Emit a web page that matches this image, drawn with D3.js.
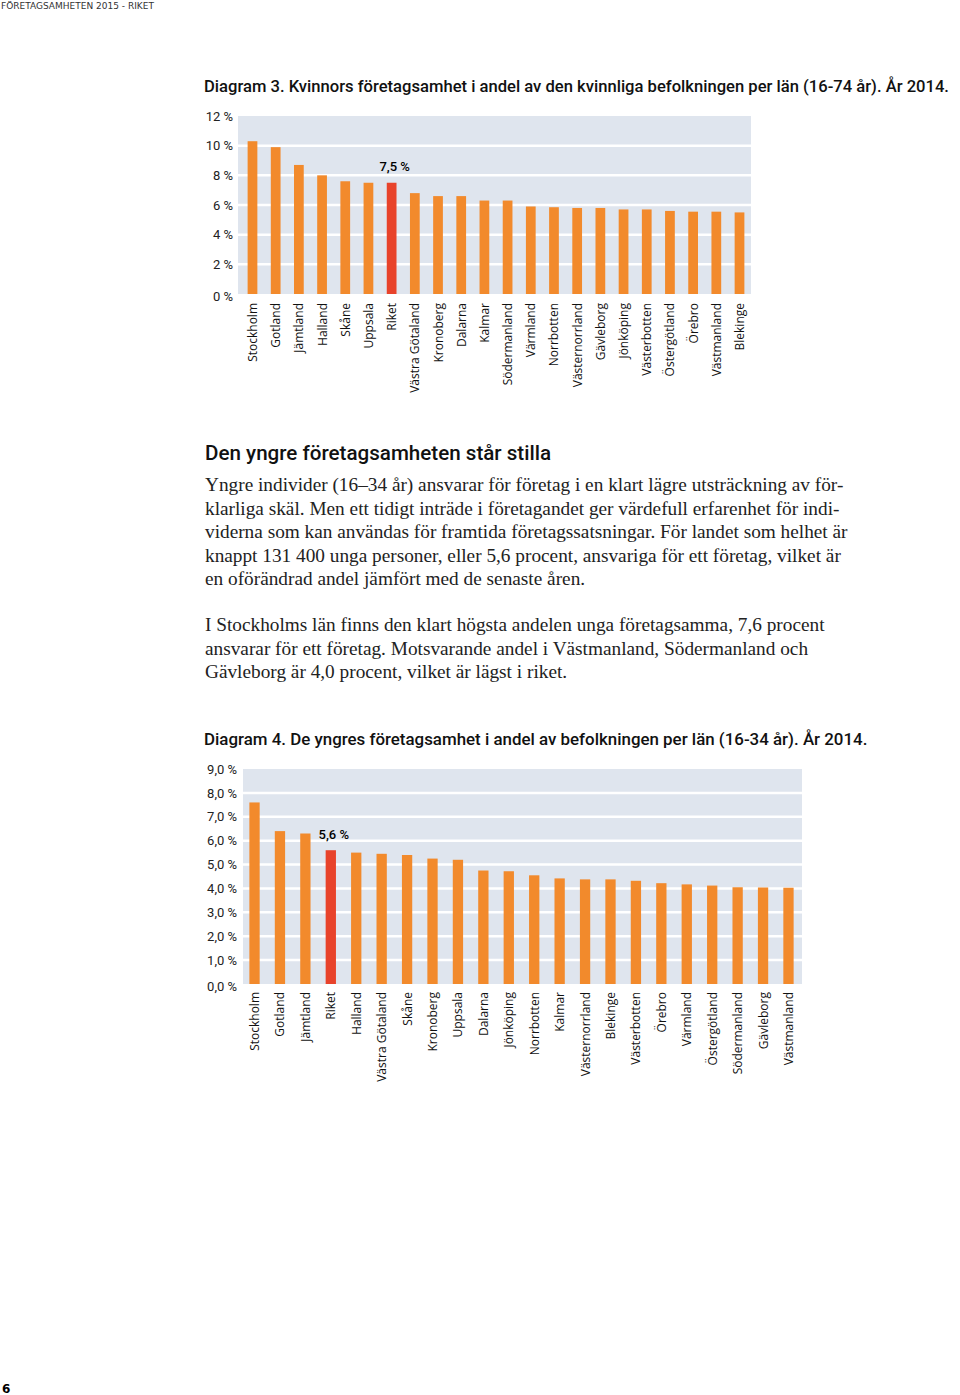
<!DOCTYPE html>
<html>
<head>
<meta charset="utf-8">
<script src="https://cdn.jsdelivr.net/npm/d3@7"></script>
<style>
  body { margin: 0; background: #fff; }
  svg { display: block; }
</style>
</head>
<body>
<div id="page"></div>
<script>
// Diagram 3 - kvinnors företagsamhet (16-74 år)
var lan3 = ["Stockholm","Gotland","Jämtland","Halland","Skåne","Uppsala","Riket","Västra Götaland",
  "Kronoberg","Dalarna","Kalmar","Södermanland","Värmland","Norrbotten","Västernorrland","Gävleborg",
  "Jönköping","Västerbotten","Östergötland","Örebro","Västmanland","Blekinge"];
var andel3 = [10.3,9.9,8.7,8.0,7.6,7.5,7.5,6.8,6.6,6.6,6.3,6.3,5.9,5.85,5.8,5.8,5.7,5.7,5.6,5.55,5.55,5.5];
var ticks3 = [0,2,4,6,8,10,12];

// Diagram 4 - de yngres företagsamhet (16-34 år)
var lan4 = ["Stockholm","Gotland","Jämtland","Riket","Halland","Västra Götaland","Skåne","Kronoberg",
  "Uppsala","Dalarna","Jönköping","Norrbotten","Kalmar","Västernorrland","Blekinge","Västerbotten",
  "Örebro","Värmland","Östergötland","Södermanland","Gävleborg","Västmanland"];
var andel4 = [7.6,6.4,6.3,5.6,5.5,5.45,5.4,5.25,5.2,4.75,4.72,4.55,4.42,4.38,4.38,4.32,4.22,4.17,4.12,4.05,4.04,4.03];
var ticks4 = [0,1,2,3,4,5,6,7,8,9];

var text1 = [
  "Yngre individer (16–34 år) ansvarar för företag i en klart lägre utsträckning av för-",
  "klarliga skäl. Men ett tidigt inträde i företagandet ger värdefull erfarenhet för indi-",
  "viderna som kan användas för framtida företagssatsningar. För landet som helhet är",
  "knappt 131 400 unga personer, eller 5,6 procent, ansvariga för ett företag, vilket är",
  "en oförändrad andel jämfört med de senaste åren."
];
var text2 = [
  "I Stockholms län finns den klart högsta andelen unga företagsamma, 7,6 procent",
  "ansvarar för ett företag. Motsvarande andel i Västmanland, Södermanland och",
  "Gävleborg är 4,0 procent, vilket är lägst i riket."
];

var orange = "#f28a2c", red = "#e8432b", bg = "#dfe5ee";
var titleFont = "Roboto, sans-serif";

var svg = d3.select("#page").append("svg")
  .attr("width", 960).attr("height", 1395);

svg.append("text").attr("x", 1).attr("y", 9)
  .attr("font-family", "'DejaVu Sans', sans-serif").attr("font-size", 9)
  .attr("fill", "#333")
  .text("FÖRETAGSAMHETEN 2015 - RIKET");

svg.append("text").attr("x", 2).attr("y", 1393)
  .attr("font-family", "'DejaVu Sans', sans-serif").attr("font-size", 12)
  .attr("font-weight", "bold").text("6");

function drawChart(o) {
  var x = d3.scaleBand().domain(o.cats).range([o.bx0, o.bx1]).paddingInner(o.pi).paddingOuter(o.po);
  var y = d3.scaleLinear().domain([0, o.max]).range([o.y0, o.y1]);
  var g = svg.append("g");

  g.append("text").attr("x", o.titleX).attr("y", o.titleY)
    .attr("font-family", titleFont).attr("font-weight", 500).attr("font-size", o.titleSize)
    .attr("fill", "#111").text(o.title);

  g.append("rect").attr("x", o.x0).attr("y", y(o.max))
    .attr("width", o.x1 - o.x0).attr("height", o.y0 - y(o.max)).attr("fill", bg);

  g.selectAll("line.grid").data(o.ticks.filter(function (d) { return d > 0 && d < o.max; }))
    .join("line").attr("class", "grid")
    .attr("x1", o.x0).attr("x2", o.x1)
    .attr("y1", function (d) { return y(d); }).attr("y2", function (d) { return y(d); })
    .attr("stroke", "#fff").attr("stroke-width", 2.5);

  var yAxis = d3.axisLeft(y).tickValues(o.ticks).tickSize(0).tickPadding(0).tickFormat(o.fmt);
  var ax = g.append("g").attr("transform", "translate(" + o.labelX + ",0)").call(yAxis);
  ax.select(".domain").remove();
  ax.selectAll("text").attr("font-family", titleFont).attr("font-size", 13).attr("fill", "#222");
  ax.selectAll(".tick").filter(function (d) { return d === 0; })
    .select("text").attr("dy", "0.5em");

  g.selectAll("rect.bar").data(o.vals).join("rect").attr("class", "bar")
    .attr("x", function (d, i) { return x(o.cats[i]); })
    .attr("width", x.bandwidth())
    .attr("y", function (d) { return y(d); })
    .attr("height", function (d) { return o.y0 - y(d); })
    .attr("fill", function (d, i) { return o.cats[i] === "Riket" ? red : orange; });

  var ri = o.cats.indexOf("Riket");
  g.append("text")
    .attr("x", x("Riket") + x.bandwidth() / 2 + o.lblDx)
    .attr("y", y(o.vals[ri]) - o.lblDy)
    .attr("text-anchor", "middle")
    .attr("font-family", titleFont).attr("font-weight", 500).attr("font-size", 13)
    .text(o.lblFmt(o.vals[ri]));

  g.selectAll("text.cat").data(o.cats).join("text").attr("class", "cat")
    .attr("transform", function (d) {
      return "translate(" + (x(d) + x.bandwidth() / 2 + 4.5) + "," + o.catY + ") rotate(-90)";
    })
    .attr("text-anchor", "end")
    .attr("font-family", "'Open Sans', sans-serif").attr("font-size", 12).attr("fill", "#111")
    .text(function (d) { return d; });
}

var pct = function (d) { return d3.format(".1f")(d).replace(".", ",") + " %"; };

drawChart({
  cats: lan3, vals: andel3, ticks: ticks3, max: 12,
  x0: 238, x1: 751, bx0: 239.5, bx1: 752.5, pi: 0.58, po: 0.35,
  y0: 294, y1: 116, labelX: 233, catY: 303,
  title: "Diagram 3. Kvinnors företagsamhet i andel av den kvinnliga befolkningen per län (16-74 år). År 2014.",
  titleX: 204, titleY: 92, titleSize: 16.6,
  fmt: function (d) { return d + " %"; },
  lblFmt: pct, lblDx: 3, lblDy: 12
});

drawChart({
  cats: lan4, vals: andel4, ticks: ticks4, max: 9,
  x0: 243, x1: 802, bx0: 242, bx1: 801, pi: 0.595, po: 0.29,
  y0: 984, y1: 769, labelX: 237, catY: 992,
  title: "Diagram 4. De yngres företagsamhet i andel av befolkningen per län (16-34 år). År 2014.",
  titleX: 204, titleY: 745, titleSize: 16.9,
  fmt: pct, lblFmt: pct, lblDx: 3, lblDy: 11
});

// brödtext
svg.append("text").attr("x", 205).attr("y", 460)
  .attr("font-family", titleFont).attr("font-weight", 500).attr("font-size", 20.6)
  .attr("fill", "#111").text("Den yngre företagsamheten står stilla");

function para(lines, y0) {
  svg.append("g").selectAll("text").data(lines).join("text")
    .attr("x", 205).attr("y", function (d, i) { return y0 + i * 23.5; })
    .attr("font-family", "'Liberation Serif', serif").attr("font-size", 19.3).attr("fill", "#222")
    .text(function (d) { return d; });
}
para(text1, 491);
para(text2, 631);
</script>
</body>
</html>
